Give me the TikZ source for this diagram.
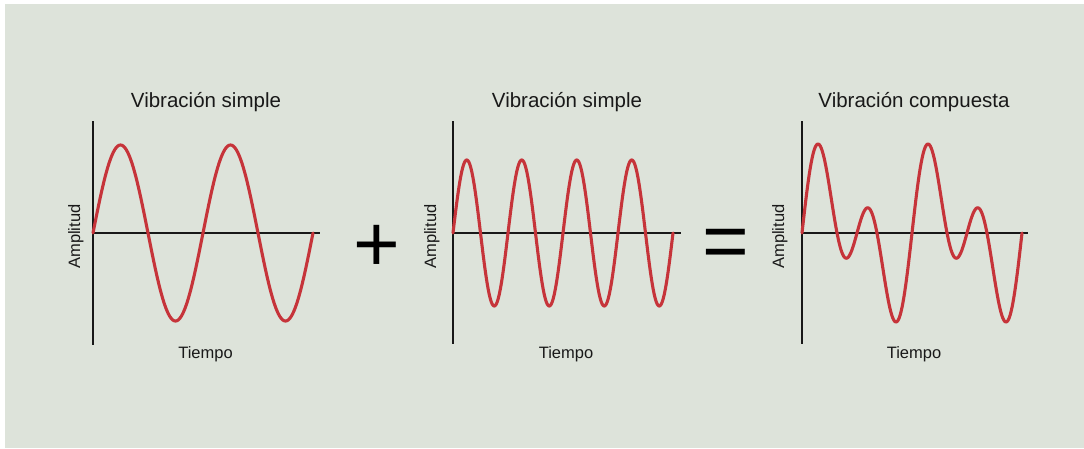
\documentclass[tikz,border=0pt]{standalone}
\usepackage{fontspec}
\setmainfont{Liberation Sans}
\definecolor{bgcol}{HTML}{DDE3DA}
\definecolor{wavered}{HTML}{C6343A}
\definecolor{axiscol}{HTML}{181818}
\begin{document}
\begin{tikzpicture}[x=1pt, y=-1pt,
  axis/.style={draw=axiscol, line width=2.7pt},
  wave/.style={draw=wavered, line width=3.1pt, line join=round, line cap=round},
  title/.style={anchor=base, inner sep=0pt, text=black!90, font=\fontsize{20.5}{24}\selectfont},
  lbl/.style={anchor=base, inner sep=0pt, text=black!90, font=\fontsize{16.5}{19}\selectfont},
  ylbl/.style={lbl, rotate=90},
  op/.style={anchor=base, inner sep=0pt, text=black, font=\fontsize{80}{84}\selectfont}
]
\useasboundingbox (0,0) rectangle (1084,448);
\fill[white] (0,0) rectangle (1084,448);
\fill[bgcol] (5,4) rectangle (1084,448);

% titles
\node[title] (t1) at (206,107) {Vibración simple};
\node[title] (t2) at (567,107) {Vibración simple};
\node[title] (t3) at (914,107) {Vibración compuesta};

% axes
\coordinate (o1) at (93,233);  \coordinate (o2) at (453,233);  \coordinate (o3) at (802,233);
\draw[axis] (93,121) -- (93,345);
\draw[axis] (o1) -- (320,233);
\draw[axis] (453,121) -- (453,344);
\draw[axis] (o2) -- (681,233);
\draw[axis] (802,121) -- (802,344);
\draw[axis] (o3) -- (1028,233);

% axis labels
\node[ylbl] (a1) at (80,236.5)  {Amplitud};
\node[ylbl] (a2) at (436,236.5) {Amplitud};
\node[ylbl] (a3) at (784,236.5) {Amplitud};
\node[lbl]  (x1) at (205.5,358) {Tiempo};
\node[lbl]  (x2) at (566,358)   {Tiempo};
\node[lbl]  (x3) at (914,358)   {Tiempo};

% waves
\draw[wave] plot[domain=0:720, samples=241] ({93+\x/720*220}, {233-88*sin(\x)});
\draw[wave] plot[domain=0:1440, samples=481] ({453+\x/1440*220}, {233-73*sin(\x)});
\draw[wave] plot[domain=0:720, samples=241] ({802+\x/720*220}, {233-45.6*sin(\x)-54.7*sin(2*\x)});

% operators
\node[op] (plus) at (376.5,271) {+};
\node[op] (eq)   at (725.5,268.5) {=};
\end{tikzpicture}
\end{document}
